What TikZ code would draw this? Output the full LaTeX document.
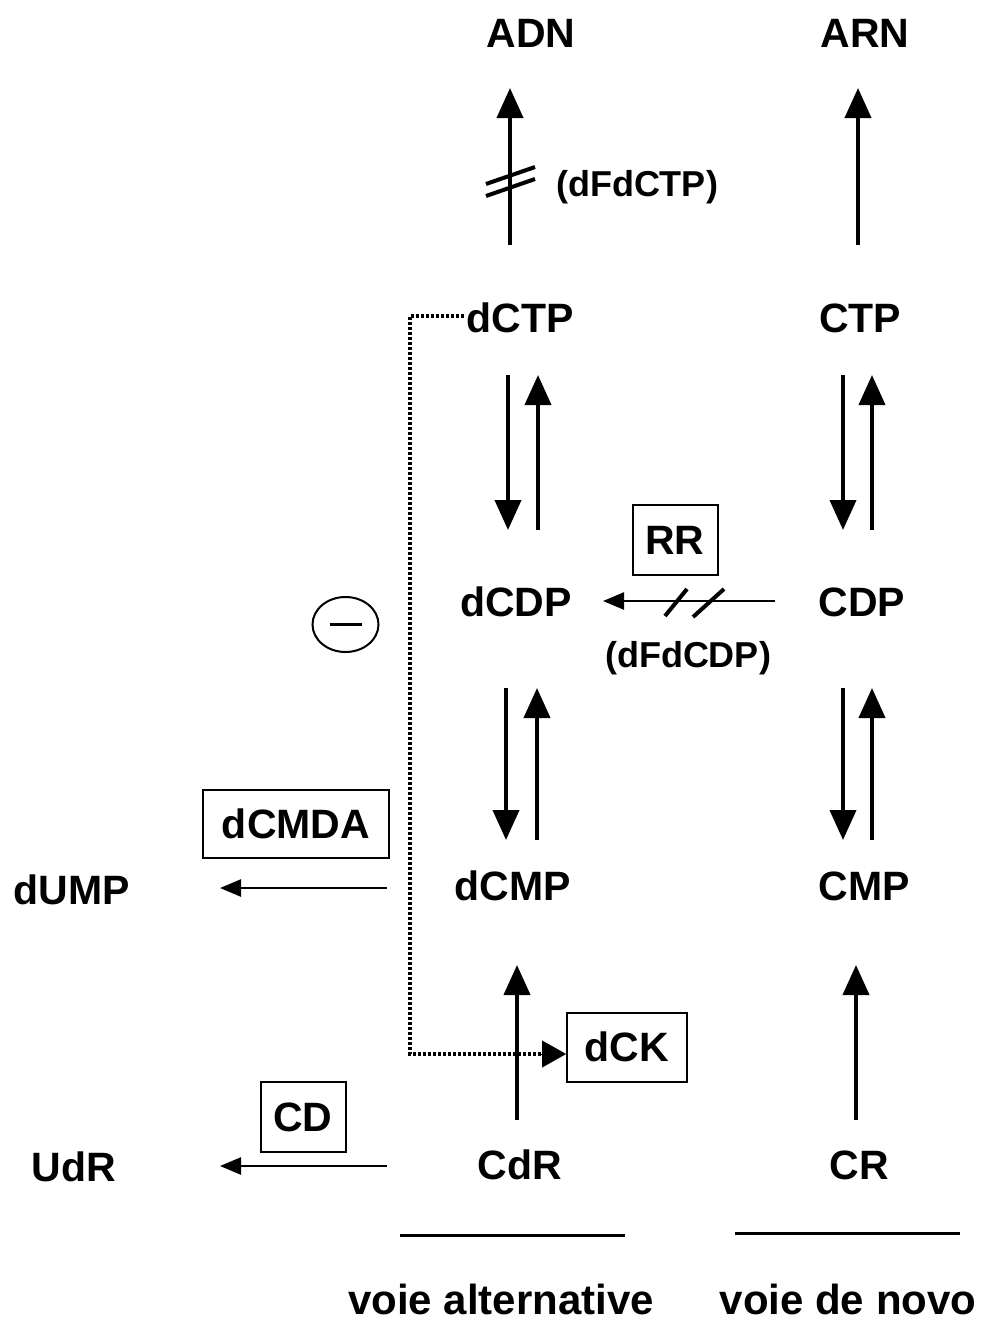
\documentclass[tikz,border=0pt]{standalone}
\usepackage{fontspec}
\setmainfont{Liberation Sans}
\usetikzlibrary{arrows.meta,calc,shapes.geometric}
\begin{document}
\begin{tikzpicture}[x=1pt,y=-1pt,
  lbl/.style={font=\fontsize{41}{41}\selectfont\bfseries, inner sep=0pt, anchor=center},
  sublbl/.style={font=\fontsize{36}{36}\selectfont\bfseries, inner sep=0pt, anchor=center},
  footlbl/.style={font=\fontsize{42}{42}\selectfont\bfseries, inner sep=0pt, anchor=center},
  enzbox/.style={draw, line width=2pt, font=\fontsize{41}{41}\selectfont\bfseries, inner sep=0pt, anchor=center},
  bigarrow/.style={line width=4pt, -{Triangle[length=30pt,width=26pt]}},
  thinarrow/.style={line width=2.5pt, -{Triangle[length=21pt,width=17pt]}},
  slashmark/.style={line width=4pt},
  dotline/.style={line width=4.5pt, dash pattern=on 3pt off 2pt},
  baseline/.style={line width=3pt}]
\useasboundingbox (0,0) rectangle (983,1323);
% nodes
\node[lbl] (ADN) at (531,33) {ADN};
\node[lbl] (ARN) at (865,33) {ARN};
\node[lbl] (dCTP) at (520,318) {dCTP};
\node[lbl] (CTP) at (860,318) {CTP};
\node[lbl] (dCDP) at (516,602) {dCDP};
\node[lbl] (CDP) at (862,602) {CDP};
\node[lbl] (dCMP) at (513,886) {dCMP};
\node[lbl] (CMP) at (864,886) {CMP};
\node[lbl] (CdR) at (520,1165) {CdR};
\node[lbl] (CR) at (859,1165) {CR};
\node[lbl] (dUMP) at (72,890) {dUMP};
\node[lbl] (UdR) at (74,1167) {UdR};
\node[sublbl] (dFdCTP) at (637,187) {(dFdCTP)};
\node[sublbl] (dFdCDP) at (688,658) {(dFdCDP)};
\node[enzbox, minimum width=85pt, minimum height=70pt] (RR) at (675,540) {RR};
\node[enzbox, minimum width=186pt, minimum height=68pt] (dCMDA) at (296,824) {dCMDA};
\node[enzbox, minimum width=85pt, minimum height=70pt] (CD) at (303,1117) {CD};
\node[enzbox, minimum width=120pt, minimum height=69pt] (dCK) at (627,1047) {dCK};
\node[draw, ellipse, line width=2pt, minimum width=66pt, minimum height=55pt, inner sep=0pt] (inhib) at (345.5,624.5) {};
\draw[line width=3.5pt] ([shift={(-16,0)}]inhib.center) -- ([shift={(16,0)}]inhib.center);
% vertical arrows to ADN / ARN
\draw[bigarrow] ([shift={(-10,-73)}]dCTP.center) -- ([shift={(-21,55)}]ADN.center);
\draw[slashmark] (486,184) -- (535,167);
\draw[slashmark] (486,196) -- (535,179);
\draw[bigarrow] ([shift={(-2,-73)}]CTP.center) -- ([shift={(-7,55)}]ARN.center);
% dCTP <-> dCDP
\draw[bigarrow] ([shift={(-12,57)}]dCTP.center) -- ([shift={(-8,-72)}]dCDP.center);
\draw[bigarrow] ([shift={(22,-72)}]dCDP.center) -- ([shift={(18,57)}]dCTP.center);
\draw[bigarrow] ([shift={(-17,57)}]CTP.center) -- ([shift={(-19,-72)}]CDP.center);
\draw[bigarrow] ([shift={(10,-72)}]CDP.center) -- ([shift={(12,57)}]CTP.center);
% dCDP <-> dCMP
\draw[bigarrow] ([shift={(-10,86)}]dCDP.center) -- ([shift={(-7,-46)}]dCMP.center);
\draw[bigarrow] ([shift={(24,-46)}]dCMP.center) -- ([shift={(21,86)}]dCDP.center);
\draw[bigarrow] ([shift={(-19,86)}]CDP.center) -- ([shift={(-21,-46)}]CMP.center);
\draw[bigarrow] ([shift={(8,-46)}]CMP.center) -- ([shift={(10,86)}]CDP.center);
% CdR -> dCMP, CR -> CMP
\draw[bigarrow] ([shift={(-3,-45)}]CdR.center) -- ([shift={(4,79)}]dCMP.center);
\draw[bigarrow] ([shift={(-3,-45)}]CR.center) -- ([shift={(-8,79)}]CMP.center);
% RR arrow
\draw[thinarrow] ([shift={(-87,-1)}]CDP.center) -- ([shift={(87,-1)}]dCDP.center);
\draw[slashmark] (665,616) -- (687,589);
\draw[slashmark] (693,617) -- (724,589);
% dCMDA and CD arrows
\coordinate (dcmpL) at (387,888);
\coordinate (cdrL) at (387,1166);
\draw[thinarrow] (dcmpL) -- ([shift={(148,-2)}]dUMP.center);
\draw[thinarrow] (cdrL) -- ([shift={(146,-1)}]UdR.center);
% dotted feedback
\coordinate (fbA) at (410,316);
\coordinate (fbB) at (410,1054);
\coordinate (dckin) at ([shift={(0,7)}]dCK.west);
\draw[dotline] ([shift={(-56,-2)}]dCTP.center) -- (fbA) -- (fbB) -- ([shift={(-20,0)}]dckin);
\draw[-{Triangle[length=24pt,width=27pt]}, line width=0.1pt] ([shift={(-26,0)}]dckin) -- (dckin);
% baselines
\coordinate (b1a) at (400,1235); \coordinate (b1b) at (625,1235);
\coordinate (b2a) at (735,1233); \coordinate (b2b) at (960,1233);
\draw[baseline] (b1a) -- (b1b);
\draw[baseline] (b2a) -- (b2b);
\node[footlbl] (valt) at (501,1299) {voie alternative};
\node[footlbl] (vnovo) at (848,1299) {voie de novo};
\end{tikzpicture}
\end{document}
